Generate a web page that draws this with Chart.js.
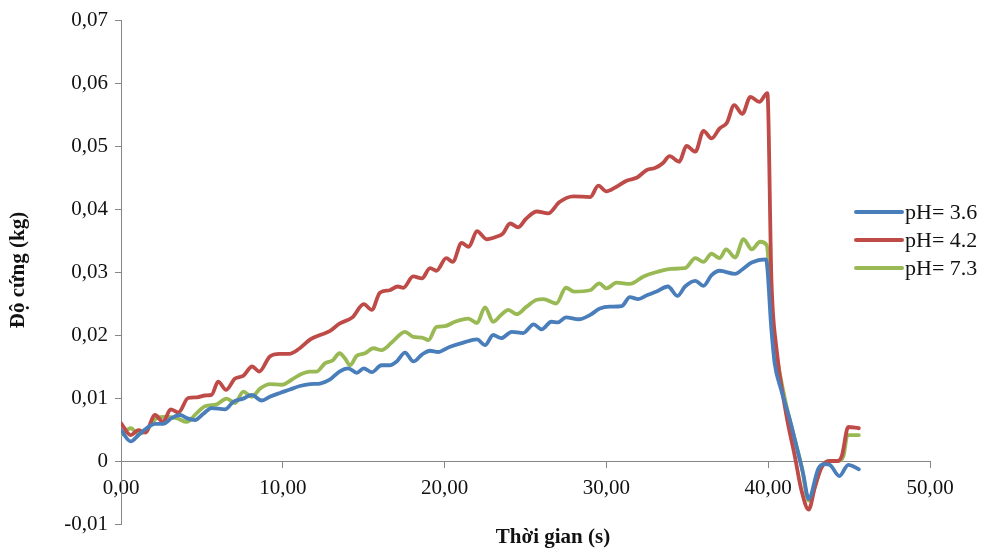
<!DOCTYPE html>
<html><head><meta charset="utf-8">
<script src="https://cdn.jsdelivr.net/npm/chart.js@4"></script>
<style>html,body{margin:0;padding:0;background:#fff;overflow:hidden}#wrap{width:986px;height:549px;position:relative}</style>
</head><body><div id="wrap"><canvas id="c"></canvas></div>
<script>
const seriesLabels = ['pH= 3.6', 'pH= 4.2', 'pH= 7.3'];
const seriesColors = ['#4A7EBB', '#BE4B48', '#98B954'];
const xTitle = 'Thời gian (s)';
const yTitle = 'Độ cứng (kg)';
const xTicks = [0, 10, 20, 30, 40, 50];
const yTicks = [-0.01, 0, 0.01, 0.02, 0.03, 0.04, 0.05, 0.06, 0.07];

// pH = 3.6
const tBlue = [0,0.6,1.07,1.58,2.1,2.6,3.13,3.65,4.06,4.57,5.09,5.6,6.43,6.94,7.56,8.08,8.7,9.2,9.83,10.4,11.06,11.68,12.3,12.9,13.5,14.05,14.57,15.0,15.5,16.1,16.6,17.04,17.55,18.07,18.6,19.1,19.6,20.3,21.16,22.0,22.5,23.0,23.5,24.15,24.86,25.5,26.0,26.6,27.0,27.5,28.3,29.0,29.6,30.2,30.95,31.45,31.97,32.5,33.1,33.8,34.4,34.86,35.5,36.0,36.5,37.0,37.95,38.4,38.98,39.86,40.2,40.4,40.8,41.34,41.75,42.16,42.5,43.1,43.5,43.8,44.4,44.95,45.6];
const vBlue = [0.0049,0.0031,0.0041,0.0052,0.0059,0.0059,0.0068,0.0073,0.0068,0.0065,0.0075,0.0084,0.0082,0.0094,0.0099,0.0105,0.0096,0.0102,0.0108,0.0113,0.0119,0.0122,0.0123,0.0129,0.0142,0.0147,0.0140,0.0147,0.0141,0.0152,0.0152,0.0158,0.0172,0.0158,0.0169,0.0175,0.0173,0.0181,0.0188,0.0193,0.0184,0.0200,0.0195,0.0205,0.0203,0.0217,0.0209,0.0221,0.0220,0.0228,0.0225,0.0232,0.0242,0.0245,0.0246,0.0260,0.0257,0.0263,0.0269,0.0277,0.0262,0.0277,0.0286,0.0278,0.0295,0.0302,0.0297,0.0304,0.0315,0.0320,0.0208,0.0155,0.0113,0.0065,0.0023,-0.0020,-0.0060,-0.0012,-0.0005,-0.0006,-0.0024,-0.0006,-0.0013];

// pH = 4.2
const tRed = [0,0.6,1.07,1.5,2.1,2.6,3.07,3.55,4.15,4.7,5.2,5.6,6.0,6.5,7.05,7.55,8.1,8.55,9.2,9.8,10.4,11.05,11.7,12.3,12.9,13.5,14.3,15.0,15.5,16.0,16.6,17.1,17.45,18.05,18.6,19.1,19.5,20.1,20.5,21.05,21.5,22.0,22.6,23.2,23.6,24.05,24.55,25.05,25.7,26.4,27.1,27.95,29.0,29.5,30.0,30.6,31.25,31.9,32.5,33.0,33.5,33.9,34.5,34.95,35.5,36.0,36.5,37.0,37.45,37.9,38.4,38.9,39.45,39.95,40.2,40.5,41.1,41.65,42.05,42.5,42.9,43.3,43.8,44.3,44.55,44.95,45.6];
const vRed = [0.0060,0.0041,0.0049,0.0045,0.0073,0.0062,0.0082,0.0077,0.0100,0.0101,0.0104,0.0105,0.0126,0.0113,0.0131,0.0135,0.0150,0.0142,0.0166,0.0170,0.0170,0.0179,0.0193,0.0200,0.0206,0.0218,0.0228,0.0249,0.0240,0.0267,0.0271,0.0277,0.0275,0.0293,0.0290,0.0306,0.0302,0.0322,0.0316,0.0346,0.0340,0.0365,0.0352,0.0356,0.0361,0.0377,0.0371,0.0385,0.0396,0.0393,0.0411,0.0420,0.0419,0.0437,0.0428,0.0435,0.0445,0.0450,0.0462,0.0465,0.0473,0.0484,0.0475,0.0500,0.0491,0.0524,0.0512,0.0528,0.0537,0.0565,0.0551,0.0578,0.0570,0.0584,0.0287,0.0181,0.0076,0.0007,-0.0046,-0.0077,-0.0040,-0.0010,0.0000,0.0000,0.0008,0.0054,0.0052];

// pH = 7.3
const tGreen = [0,0.6,1.07,1.58,2.2,2.72,3.44,4.06,4.68,5.19,5.91,6.53,7.05,7.56,8.08,8.6,9.2,9.93,10.55,11.06,11.68,12.1,12.6,13.1,13.5,13.84,14.15,14.57,15.08,15.6,16.1,16.73,17.55,18.07,18.6,19.0,19.5,20.0,20.64,21.47,22.0,22.5,23.0,23.5,23.94,24.45,25.07,25.7,26.1,26.9,27.5,28.0,29.0,29.56,30.0,30.64,31.45,32.3,33.1,34.0,34.86,35.5,36.0,36.5,37.0,37.4,37.96,38.47,38.98,39.5,39.9,40.3,40.6,41.14,41.66,42.07,42.5,43.3,43.8,44.3,44.64,44.9,45.6];
const vGreen = [0.0041,0.0052,0.0043,0.0049,0.0068,0.0070,0.0068,0.0062,0.0076,0.0087,0.0090,0.0099,0.0092,0.0110,0.0102,0.0115,0.0122,0.0121,0.0129,0.0137,0.0142,0.0142,0.0155,0.0160,0.0171,0.0163,0.0152,0.0167,0.0171,0.0179,0.0176,0.0188,0.0205,0.0197,0.0196,0.0192,0.0213,0.0214,0.0221,0.0226,0.0219,0.0244,0.0221,0.0232,0.0240,0.0233,0.0245,0.0256,0.0257,0.0250,0.0275,0.0269,0.0271,0.0282,0.0274,0.0283,0.0281,0.0293,0.0300,0.0305,0.0306,0.0322,0.0316,0.0329,0.0322,0.0336,0.0323,0.0352,0.0336,0.0348,0.0343,0.0203,0.0155,0.0086,0.0033,-0.0009,-0.0063,-0.0009,0.0000,0.0000,0.0007,0.0041,0.0041];

const times = [tBlue, tRed, tGreen];
const values = [vBlue, vRed, vGreen];

const datasets = seriesLabels.map((lab, i) => ({
  label: lab,
  data: times[i].map((t, j) => ({ x: t, y: values[i][j] })),
  borderColor: seriesColors[i],
  backgroundColor: seriesColors[i],
  borderWidth: 3.8,
  pointRadius: 0,
  fill: false,
  cubicInterpolationMode: 'monotone',
  borderJoinStyle: 'round',
  borderCapStyle: 'round'
}));

const fmtY = v => Math.abs(v) < 1e-9 ? '0' : v.toFixed(2).replace('.', ',');
const fmtX = v => v.toFixed(2).replace('.', ',');
const serif = '"Liberation Serif", "Times New Roman", serif';

const overlay = {
  id: 'overlay',
  afterDraw(chart) {
    const ctx = chart.ctx;
    ctx.save();
    ctx.fillStyle = '#111';
    ctx.font = 'bold 21px ' + serif;
    ctx.textAlign = 'center';
    ctx.textBaseline = 'middle';
    ctx.fillText(xTitle, 553, 538);
    ctx.save();
    ctx.translate(19, 270);
    ctx.rotate(-Math.PI / 2);
    ctx.fillText(yTitle, 0, 0);
    ctx.restore();
    // legend
    ctx.font = '22px ' + serif;
    ctx.textAlign = 'left';
    chart.data.datasets.forEach((ds, i) => {
      const y = 212 + i * 28;
      ctx.strokeStyle = ds.borderColor;
      ctx.lineWidth = 4;
      ctx.lineCap = 'round';
      ctx.beginPath();
      ctx.moveTo(856, y);
      ctx.lineTo(902, y);
      ctx.stroke();
      ctx.fillStyle = '#111';
      ctx.fillText(ds.label, 905, y + 1);
    });
    ctx.restore();
  }
};

new Chart(document.getElementById('c'), {
  type: 'line',
  data: { datasets },
  options: {
    responsive: true,
    maintainAspectRatio: false,
    animation: false,
    layout: { padding: { left: 0, top: 20, right: 56, bottom: 25 } },
    plugins: { legend: { display: false }, tooltip: { enabled: false } },
    scales: {
      x: {
        type: 'linear', min: 0, max: 50,
        position: { y: 0 },
        afterBuildTicks: s => { s.ticks = xTicks.map(v => ({ value: v })); },
        grid: { drawOnChartArea: false, drawTicks: true, tickLength: 6, color: '#868686' },
        border: { display: true, color: '#868686', width: 1 },
        ticks: { color: '#111', font: { family: serif, size: 21 }, padding: 9, maxRotation: 0, autoSkip: false, callback: v => fmtX(v) }
      },
      y: {
        type: 'linear', min: -0.01, max: 0.07,
        afterBuildTicks: s => { s.ticks = yTicks.map(v => ({ value: v })); },
        afterFit: s => { s.width = 121; },
        grid: { drawOnChartArea: false, drawTicks: true, tickLength: 6, color: '#868686' },
        border: { display: true, color: '#868686', width: 1 },
        ticks: { color: '#111', font: { family: serif, size: 21 }, padding: 7, autoSkip: false, callback: v => fmtY(v) }
      }
    }
  },
  plugins: [overlay]
});
</script>
</body></html>
